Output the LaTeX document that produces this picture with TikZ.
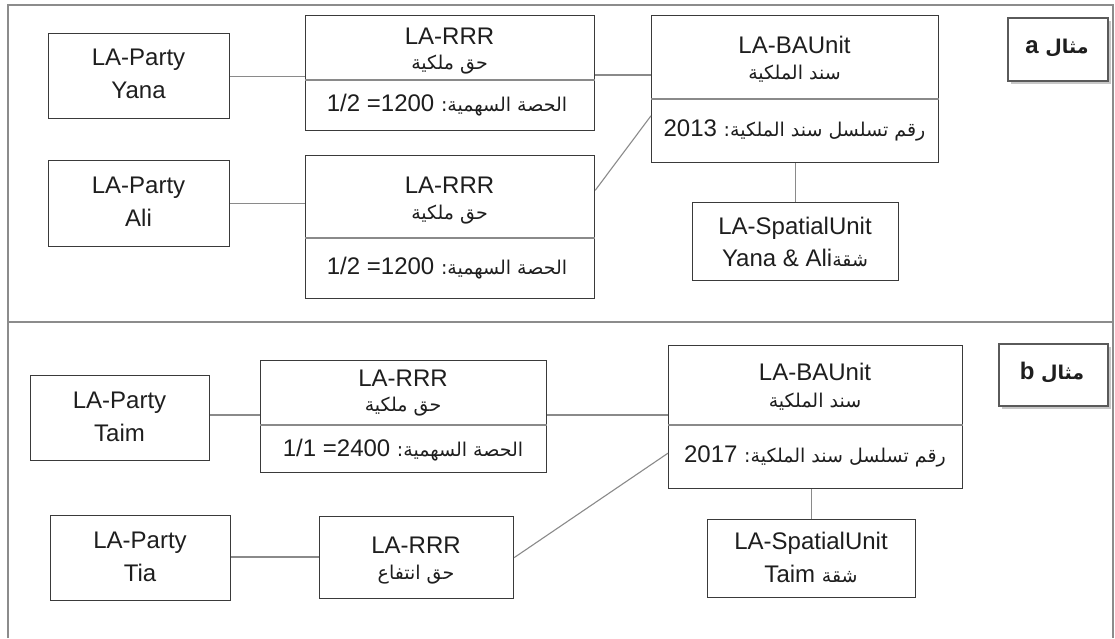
\documentclass[tikz,border=0pt]{standalone}
\usepackage{fontspec}
\setmainfont{Liberation Sans}
\newfontfamily\arabicfont[Script=Arabic]{DejaVu Sans}
\TeXXeTstate=1
\usetikzlibrary{calc,shadows}
% Arabic run, set right to left
\newcommand\artext[1]{{\arabicfont\fontsize{19}{22}\selectfont\beginR #1\endR}}
\newcommand\artag[1]{{\arabicfont\bfseries\fontsize{19}{22}\selectfont\beginR #1\endR}}
\definecolor{boxline}{HTML}{3A3A3A}
\definecolor{linkgray}{HTML}{8A8A8A}
\definecolor{framegray}{HTML}{8C8C8C}
\definecolor{taggray}{HTML}{5A5A5A}
\definecolor{ink}{HTML}{1E1E1E}
\tikzset{
  box/.style={draw=boxline, line width=1.2pt, fill=white, inner sep=0pt, anchor=north west, rectangle},
  conn/.style={draw=linkgray, line width=1.1pt},
  divline/.style={draw=linkgray, line width=1.1pt},
  frameline/.style={draw=framegray, line width=2pt},
  tag/.style={draw=taggray, line width=2.4pt, fill=white, anchor=north west, inner sep=0pt,
    drop shadow={shadow xshift=2.5pt, shadow yshift=-2.5pt, fill=gray!55, opacity=0.8}},
  lbl/.style={font=\fontsize{24}{28}\selectfont, text=ink, inner sep=0pt},
  taglbl/.style={inner sep=0pt, font=\bfseries\fontsize{24}{28}\selectfont, text=ink},
}
\begin{document}
\begin{tikzpicture}[x=1pt, y=-1pt]
\useasboundingbox (0,0) rectangle (1115,638);
\fill[white] (0,0) rectangle (1115,638);

% outer frame and panel divider
\draw[frameline] (8,638) -- (8,5) -- (1113,5) -- (1113,638);
\draw[frameline] (8,322) -- (1113,322);

% ---------- panel a ----------
\node[box, minimum width=181pt, minimum height=85pt]  (pa1) at (48,33)   {};
\node[box, minimum width=289pt, minimum height=115pt] (ra1) at (305,15)  {};
\node[box, minimum width=287pt, minimum height=147pt] (ba1) at (651,15)  {};
\node[box, minimum width=181pt, minimum height=86pt]  (pa2) at (48,160)  {};
\node[box, minimum width=289pt, minimum height=143pt] (ra2) at (305,155) {};
\node[box, minimum width=206pt, minimum height=78pt]  (su1) at (692,202) {};
\node[tag, minimum width=100pt, minimum height=63pt]  (taga) at (1007,17) {};

\draw[divline] (ra1.west |- 0,80)  -- (ra1.east |- 0,80);
\draw[divline] (ba1.west |- 0,99)  -- (ba1.east |- 0,99);
\draw[divline] (ra2.west |- 0,238) -- (ra2.east |- 0,238);

\node[lbl] (pa1t) at (138.5,60) {LA-Party};
\node[lbl] (pa1n) at (138.5,90) {Yana};
\node[lbl] (ra1t) at (449.5,36) {LA-RRR};
\node[lbl] (ra1a) at (449.5,65) {\artext{حق ملكية}};
\node[lbl] (ra1s) at (447,105) {1/2 =1200 \artext{الحصة السهمية:}};
\node[lbl] (ba1t) at (794.5,45) {LA-BAUnit};
\node[lbl] (ba1a) at (794.5,74) {\artext{سند الملكية}};
\node[lbl] (ba1s) at (794.5,130) {2013 \artext{رقم تسلسل سند الملكية:}};
\node[lbl] (pa2t) at (138.5,188) {LA-Party};
\node[lbl] (pa2n) at (138.5,218) {Ali};
\node[lbl] (ra2t) at (449.5,185) {LA-RRR};
\node[lbl] (ra2a) at (449.5,215) {\artext{حق ملكية}};
\node[lbl] (ra2s) at (447,268) {1/2 =1200 \artext{الحصة السهمية:}};
\node[lbl] (su1t) at (795,228) {LA-SpatialUnit};
\node[lbl] (su1n) at (795,258) {Yana \& Ali\artext{شقة}};
\node[taglbl] (tagat) at (1057,48) {a \artag{مثال}};

\draw[conn] (pa1.east) -- (pa1.east -| ra1.west);
\draw[conn] (ra1.east |- 0,75) -- (ba1.west |- 0,75);
\draw[conn] (pa2.east) -- (pa2.east -| ra2.west);
\draw[conn] ($(ra2.north east)!0.245!(ra2.south east)$) -- ($(ba1.north west)!0.68!(ba1.south west)$);
\draw[conn] (su1.north) -- (su1.north |- ba1.south);

% ---------- panel b ----------
\node[box, minimum width=179pt, minimum height=85pt]  (pb1) at (30,375)  {};
\node[box, minimum width=286pt, minimum height=112pt] (rb1) at (260,360) {};
\node[box, minimum width=294pt, minimum height=143pt] (bb1) at (668,345) {};
\node[box, minimum width=180pt, minimum height=85pt]  (pb2) at (50,515)  {};
\node[box, minimum width=194pt, minimum height=82pt]  (rb2) at (319,516) {};
\node[box, minimum width=208pt, minimum height=78pt]  (su2) at (707,519) {};
\node[tag, minimum width=109pt, minimum height=62pt]  (tagb) at (998,343) {};

\draw[divline] (rb1.west |- 0,425) -- (rb1.east |- 0,425);
\draw[divline] (bb1.west |- 0,425) -- (bb1.east |- 0,425);

\node[lbl] (pb1t) at (119.5,403) {LA-Party};
\node[lbl] (pb1n) at (119.5,433) {Taim};
\node[lbl] (rb1t) at (403,378) {LA-RRR};
\node[lbl] (rb1a) at (403,407) {\artext{حق ملكية}};
\node[lbl] (rb1s) at (403,450) {1/1 =2400 \artext{الحصة السهمية:}};
\node[lbl] (bb1t) at (815,372) {LA-BAUnit};
\node[lbl] (bb1a) at (815,402) {\artext{سند الملكية}};
\node[lbl] (bb1s) at (815,456) {2017 \artext{رقم تسلسل سند الملكية:}};
\node[lbl] (pb2t) at (140,543) {LA-Party};
\node[lbl] (pb2n) at (140,573) {Tia};
\node[lbl] (rb2t) at (416,545) {LA-RRR};
\node[lbl] (rb2a) at (416,575) {\artext{حق انتفاع}};
\node[lbl] (su2t) at (811,543) {LA-SpatialUnit};
\node[lbl] (su2n) at (811,574) {Taim \artext{شقة}};
\node[taglbl] (tagbt) at (1052,373) {b \artag{مثال}};

\draw[conn] (pb1.east |- 0,415) -- (rb1.west |- 0,415);
\draw[conn] (rb1.east |- 0,415) -- (bb1.west |- 0,415);
\draw[conn] (pb2.east |- 0,557) -- (rb2.west |- 0,557);
\draw[conn] (rb2.east) -- ($(bb1.north west)!0.75!(bb1.south west)$);
\draw[conn] (su2.north) -- (su2.north |- bb1.south);
\end{tikzpicture}
\end{document}
